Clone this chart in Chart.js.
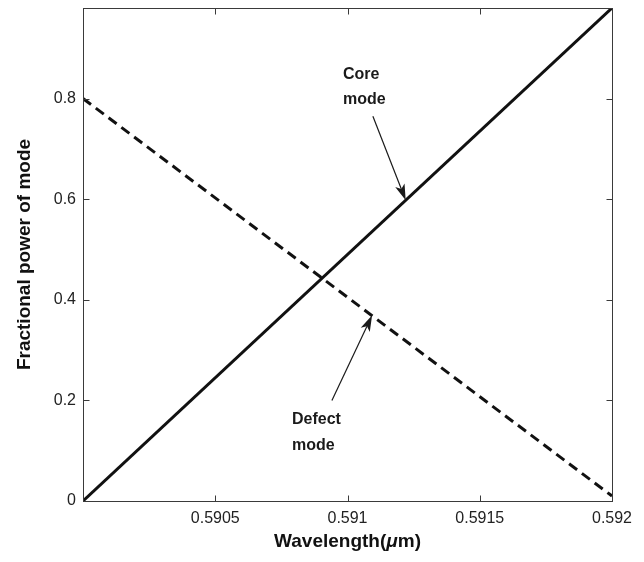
<!DOCTYPE html>
<html>
<head>
<meta charset="utf-8">
<script src="https://cdn.jsdelivr.net/npm/chart.js@4.4.0/dist/chart.umd.min.js"></script>
<style>
  html, body { margin: 0; padding: 0; background: #fff; }
</style>
</head>
<body>
<canvas id="mycanvas" width="644" height="562"></canvas>
<script>
var wavelength = [0.5900, 0.5920];
var coreMode = [0.0, 0.98];
var defectMode = [0.80, 0.01];
var xTicks = [0.5905, 0.591, 0.5915, 0.592];
var yTicks = [0, 0.2, 0.4, 0.6, 0.8];

// text + arrow callouts, placed in data units
var callouts = [
	{ lines: ['Core', 'mode'], textX: 0.590983, textY: [0.847, 0.797], from: [0.591096, 0.765], to: [0.59122, 0.598] },
	{ lines: ['Defect', 'mode'], textX: 0.59079, textY: [0.161, 0.111], from: [0.590941, 0.20], to: [0.591093, 0.369] }
];

function points(ys) {
	var out = [];
	for (var i in wavelength) out.push({ x: wavelength[i], y: ys[i] });
	return out;
}

function fmt(v) {
	return parseFloat(v.toFixed(4)).toString();
}

function arrow(ctx, x0, y0, x1, y1) {
	var ang = Math.atan2(y1 - y0, x1 - x0);
	var len = 16, half = 5, notch = 12;
	ctx.beginPath();
	ctx.moveTo(x0, y0);
	ctx.lineTo(x1 - Math.cos(ang) * notch, y1 - Math.sin(ang) * notch);
	ctx.stroke();
	ctx.save();
	ctx.translate(x1, y1);
	ctx.rotate(ang);
	ctx.beginPath();
	ctx.moveTo(0, 0);
	ctx.lineTo(-len, -half);
	ctx.lineTo(-notch, 0);
	ctx.lineTo(-len, half);
	ctx.closePath();
	ctx.fill();
	ctx.restore();
}

var framePlugin = {
	id: 'frame',
	afterDatasetsDraw: function(chart) {
		var ctx = chart.ctx, a = chart.chartArea;
		var xs = chart.scales.x, ys = chart.scales.y;
		var L = Math.round(a.left) + 0.5, R = Math.round(a.right) + 0.5;
		var T = Math.round(a.top) + 0.5, B = Math.round(a.bottom) + 0.5;
		var tick = 6;
		ctx.save();
		ctx.strokeStyle = '#3a3a3a';
		ctx.lineWidth = 1;
		ctx.strokeRect(L, T, R - L, B - T);
		ctx.beginPath();
		xTicks.forEach(function(v) {
			var px = Math.round(xs.getPixelForValue(v)) + 0.5;
			ctx.moveTo(px, B); ctx.lineTo(px, B - tick);
			ctx.moveTo(px, T); ctx.lineTo(px, T + tick);
		});
		yTicks.forEach(function(v) {
			var py = Math.round(ys.getPixelForValue(v)) + 0.5;
			ctx.moveTo(L, py); ctx.lineTo(L + tick, py);
			ctx.moveTo(R, py); ctx.lineTo(R - tick, py);
		});
		ctx.stroke();

		// callouts
		ctx.fillStyle = '#1a1a1a';
		ctx.strokeStyle = '#1a1a1a';
		ctx.lineWidth = 1.2;
		ctx.font = 'bold 16px "Liberation Sans", Arial, sans-serif';
		ctx.textAlign = 'left';
		ctx.textBaseline = 'middle';
		callouts.forEach(function(c) {
			c.lines.forEach(function(t, i) {
				ctx.fillText(t, xs.getPixelForValue(c.textX), ys.getPixelForValue(c.textY[i]));
			});
			arrow(ctx,
				xs.getPixelForValue(c.from[0]), ys.getPixelForValue(c.from[1]),
				xs.getPixelForValue(c.to[0]), ys.getPixelForValue(c.to[1]));
		});

		// x axis title with italic mu
		var cx = (a.left + a.right) / 2, cy = 542;
		var partA = 'Wavelength(', partB = '\u03bc', partC = 'm)';
		var fb = 'bold 19px "Liberation Sans", Arial, sans-serif';
		var fi = 'italic bold 19px "Liberation Sans", Arial, sans-serif';
		ctx.font = fb; var wA = ctx.measureText(partA).width, wC = ctx.measureText(partC).width;
		ctx.font = fi; var wB = ctx.measureText(partB).width;
		var x0 = cx - (wA + wB + wC) / 2;
		ctx.fillStyle = '#111';
		ctx.font = fb; ctx.fillText(partA, x0, cy);
		ctx.font = fi; ctx.fillText(partB, x0 + wA, cy);
		ctx.font = fb; ctx.fillText(partC, x0 + wA + wB, cy);
		ctx.restore();
	}
};

var ctx = document.getElementById('mycanvas');

var chart = new Chart(ctx, {
	type: 'line',
	data: {
		datasets: [
			{
				label: 'Core mode',
				data: points(coreMode),
				borderColor: '#111',
				borderWidth: 3,
				pointRadius: 0,
				fill: false,
				tension: 0
			},
			{
				label: 'Defect mode',
				data: points(defectMode),
				borderColor: '#111',
				borderWidth: 3,
				borderDash: [10, 6],
				pointRadius: 0,
				fill: false,
				tension: 0
			}
		]
	},
	options: {
		responsive: false,
		animation: false,
		layout: { padding: { top: 8, right: 32, left: 0, bottom: 0 } },
		plugins: { legend: { display: false }, tooltip: { enabled: false } },
		scales: {
			x: {
				type: 'linear',
				min: 0.5900,
				max: 0.5920,
				afterBuildTicks: function(s) { s.ticks = xTicks.map(function(v) { return { value: v }; }); },
				afterFit: function(s) { s.height = 61; },
				grid: { display: false, drawTicks: false },
				border: { display: false },
				ticks: {
					padding: 8,
					maxRotation: 0,
					autoSkip: false,
					color: '#222',
					font: { family: '"Liberation Sans", Arial, sans-serif', size: 16 },
					callback: function(v) { return fmt(v); }
				},
				title: { display: false }
			},
			y: {
				min: 0,
				max: 0.98,
				afterBuildTicks: function(s) { s.ticks = yTicks.map(function(v) { return { value: v }; }); },
				afterFit: function(s) { s.width = 83; s.paddingTop = 0; },
				grid: { display: false, drawTicks: false },
				border: { display: false },
				ticks: {
					padding: 7,
					autoSkip: false,
					color: '#222',
					font: { family: '"Liberation Sans", Arial, sans-serif', size: 16 },
					callback: function(v) { return fmt(v); }
				},
				title: {
					display: true,
					text: 'Fractional power of mode',
					color: '#111',
					padding: { top: 13, bottom: 0 },
					font: { family: '"Liberation Sans", Arial, sans-serif', size: 19, weight: 'bold' }
				}
			}
		}
	},
	plugins: [framePlugin]
});
</script>
</body>
</html>
